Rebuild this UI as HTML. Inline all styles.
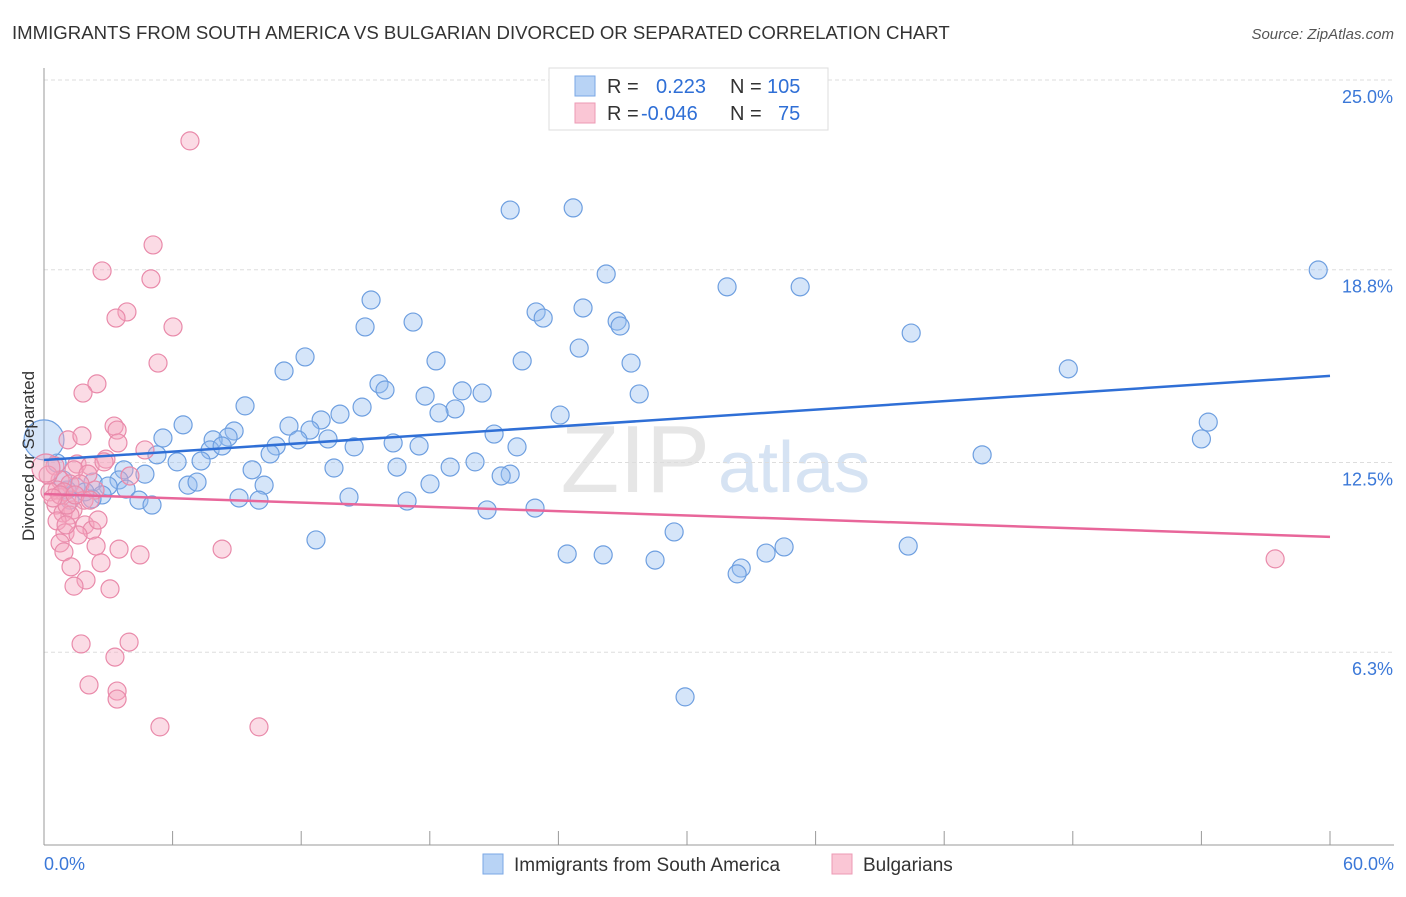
<!DOCTYPE html>
<html><head><meta charset="utf-8"><style>
body{margin:0;background:#fff;font-family:"Liberation Sans",sans-serif}
svg text{font-family:"Liberation Sans",sans-serif}
</style></head><body>
<svg id="c" width="1406" height="892" xmlns="http://www.w3.org/2000/svg">
<text x="12" y="39" font-size="18.6" fill="#333">IMMIGRANTS FROM SOUTH AMERICA VS BULGARIAN DIVORCED OR SEPARATED CORRELATION CHART</text>
<text x="1394" y="39" font-size="15" fill="#555" text-anchor="end" font-style="italic">Source: ZipAtlas.com</text>
<text x="710" y="492" font-size="96" fill="#e6e6e6" text-anchor="end" font-family="Liberation Serif">ZIP</text>
<text x="718" y="492" font-size="72" fill="#d6e3f3">atlas</text>
<g id="grid"></g><g id="pts"></g><g id="lines"></g>
<text x="34" y="456" font-size="17" fill="#333" text-anchor="middle" transform="rotate(-90 34 456)">Divorced or Separated</text>
<g>
<rect x="549" y="68" width="279" height="62" fill="#fff" stroke="#ddd"/>
<rect x="575" y="76" width="20" height="20" fill="#b8d3f5" stroke="#7aa7e5"/>
<rect x="575" y="103" width="20" height="20" fill="#fac6d5" stroke="#ec9ab4"/>
<text x="607" y="93" font-size="20" fill="#333">R =</text><text x="656" y="93" font-size="20" fill="#2f6fd6">0.223</text>
<text x="730" y="93" font-size="20" fill="#333">N =</text><text x="767" y="93" font-size="20" fill="#2f6fd6">105</text>
<text x="607" y="120" font-size="20" fill="#333">R =</text><text x="641" y="120" font-size="20" fill="#2f6fd6">-0.046</text>
<text x="730" y="120" font-size="20" fill="#333">N =</text><text x="778" y="120" font-size="20" fill="#2f6fd6">75</text>
</g>
<g>
<rect x="483" y="854" width="20" height="20" fill="#b8d3f5" stroke="#7aa7e5"/>
<text x="514" y="871" font-size="19" fill="#333">Immigrants from South America</text>
<rect x="832" y="854" width="20" height="20" fill="#fac6d5" stroke="#ec9ab4"/>
<text x="863" y="871" font-size="19" fill="#333">Bulgarians</text>
</g>
<text x="44" y="870" font-size="18" fill="#3b78d8">0.0%</text>
<text x="1394" y="870" font-size="18" fill="#3b78d8" text-anchor="end">60.0%</text>
</svg>
<script>
const yTicks=[25.0,18.8,12.5,6.3];
const yTickLabels=["25.0%","18.8%","12.5%","6.3%"];
const xTickVals=[0,6,12,18,24,30,36,42,48,54,60];
const blueX=[21.75,24.69,59.45,26.23,31.87,35.28,15.26,22.96,23.29,25.15,17.22,26.74,26.88,14.98,40.46,24.97,12.18,18.29,22.31,27.39,11.20,47.79,15.63,15.91,19.51,20.44,17.78,27.77,19.18,9.38,18.43,14.84,24.08,13.81,12.93,6.49,54.32,8.87,11.43,12.41,8.59,5.55,7.89,11.85,10.83,13.25,14.47,16.29,17.50,21.00,22.07,54.0,7.75,8.31,5.27,10.55,43.77,6.21,7.33,3.73,4.71,9.71,13.53,16.47,18.95,20.11,21.75,21.33,3.50,6.72,7.14,10.27,3.83,2.29,2.99,2.71,4.43,9.10,10.03,14.23,18.01,16.94,20.67,22.91,5.04,2.24,1.49,1.07,12.69,29.40,24.41,26.09,28.51,33.69,34.53,40.32,32.53,32.34,29.91,0.61,0.89,1.91,1.21,0];
const blueY=[20.75,20.82,18.79,18.66,18.24,18.24,17.81,17.42,17.22,17.55,17.09,17.12,16.96,16.93,16.73,16.24,15.95,15.82,15.82,15.75,15.49,15.56,15.07,14.87,14.84,14.77,14.67,14.74,14.25,14.35,14.12,14.31,14.05,14.08,13.89,13.73,13.82,13.53,13.69,13.56,13.33,13.30,13.24,13.24,13.04,13.27,13.01,13.14,13.04,13.43,13.01,13.27,12.91,13.04,12.75,12.78,12.75,12.52,12.55,12.26,12.12,12.26,12.32,12.35,12.35,12.52,12.12,12.06,11.93,11.76,11.86,11.76,11.63,11.86,11.73,11.44,11.27,11.34,11.27,11.37,11.80,11.24,10.95,11.01,11.11,11.31,11.70,11.60,9.97,10.23,9.51,9.48,9.31,9.54,9.74,9.77,9.05,8.86,4.84,12.48,11.93,11.54,11.27,13.24];
const pinkX=[6.81,5.09,2.71,4.99,3.87,3.36,6.02,5.32,2.47,1.82,3.27,3.41,1.12,3.45,1.77,4.71,2.89,0.51,1.54,2.15,1.40,2.05,2.80,4.01,0.75,1.21,1.68,0.61,0.93,0.28,2.38,1.87,0.56,1.35,0.89,1.21,0.61,1.91,2.24,0.98,1.59,0.75,2.43,3.50,4.48,8.31,0.93,2.66,1.26,1.96,1.40,3.08,1.73,3.97,3.31,2.10,3.41,3.41,5.41,10.03,57.44,0.19,0.75,1.07,0.42,1.45,2.15,2.52,1.03,0.09];
const pinkY=[23.01,19.61,18.76,18.50,17.42,17.22,16.93,15.75,15.07,14.77,13.69,13.56,13.24,13.14,13.37,12.91,12.61,12.39,12.45,12.39,12.26,12.12,12.52,12.06,11.93,11.80,11.80,11.60,11.54,11.54,11.60,11.27,11.11,10.95,10.85,10.78,10.59,10.46,10.29,10.20,10.13,9.87,9.77,9.67,9.48,9.67,9.58,9.22,9.09,8.66,8.46,8.37,6.57,6.63,6.14,5.23,5.03,4.77,3.86,3.86,9.35,12.09,11.44,11.11,11.34,11.44,11.27,10.62,10.46,12.32];
const blueTrend=[12.58,15.33];
const pinkTrend=[11.47,10.07];
const X=v=>44+v*(1286/60), Y=v=>80+(25-v)*30.6;
const NS="http://www.w3.org/2000/svg";
function mk(t,a,p){const e=document.createElementNS(NS,t);for(const k in a)e.setAttribute(k,a[k]);p.appendChild(e);return e;}
const grid=document.getElementById('grid');
yTicks.forEach((v,i)=>{
 const l=mk('line',{x1:44,x2:1394,y1:Y(v),y2:Y(v),stroke:'#ddd','stroke-dasharray':'4 3'},grid);
 
 
 const t=mk('text',{x:1393,y:Y(v)+23,'font-size':18,fill:'#3b78d8','text-anchor':'end'},grid);t.textContent=yTickLabels[i];
 
 
});
const ax=mk('line',{x1:44,x2:44,y1:68,y2:845,stroke:'#999'},grid);


const bx=mk('line',{x1:44,x2:1394,y1:845,y2:845,stroke:'#999'},grid);


xTickVals.forEach(v=>{const t=mk('line',{x1:X(v),x2:X(v),y1:831,y2:845,stroke:'#999'},grid);
 
 });
const pts=document.getElementById('pts');
blueX.forEach((x,i)=>{const r=(x===0&&i===blueX.length-1)?20:9;
 const c=mk('circle',{cx:X(x),cy:Y(blueY[i]),r:r,fill:'rgba(150,190,240,0.4)',stroke:'#6e9fe0','stroke-width':1.2},pts);
 
 });
pinkX.forEach((x,i)=>{const r=(i===pinkX.length-1)?14:9;
 const c=mk('circle',{cx:X(x),cy:Y(pinkY[i]),r:r,fill:'rgba(245,165,190,0.4)',stroke:'#e98aaa','stroke-width':1.2},pts);
 
 });
const lines=document.getElementById('lines');
const bl=mk('line',{x1:X(0),y1:Y(blueTrend[0]),x2:X(60),y2:Y(blueTrend[1]),stroke:'#2f6fd6','stroke-width':2.5},lines);


const pl=mk('line',{x1:X(0),y1:Y(pinkTrend[0]),x2:X(60),y2:Y(pinkTrend[1]),stroke:'#e8669a','stroke-width':2.5},lines);


</script>
</body></html>
